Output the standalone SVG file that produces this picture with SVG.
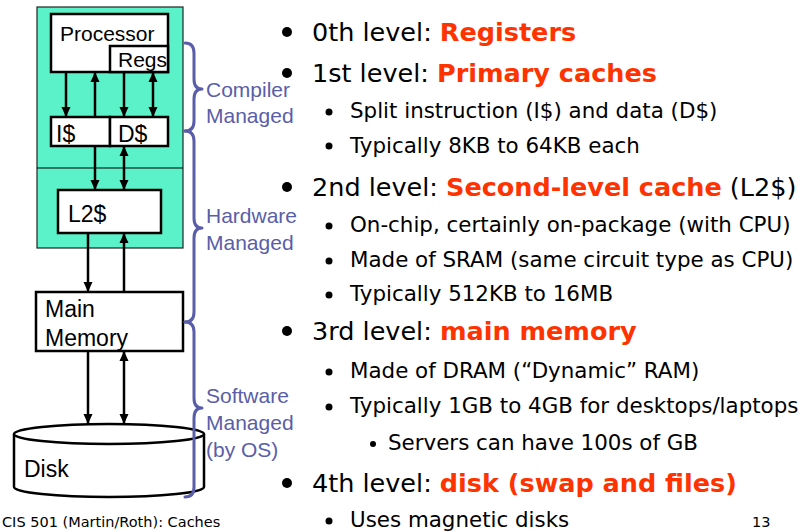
<svg xmlns="http://www.w3.org/2000/svg" width="810" height="531" viewBox="0 0 810 531">
<style>
.box{fill:#fff;stroke:#000;stroke-width:2.5}
.lbl{font-family:"Liberation Sans",Arial,sans-serif;fill:#000}
.blue{font-family:"Liberation Sans",Arial,sans-serif;font-size:21px;fill:#5a5ea8}
.brace{fill:none;stroke:#5a5ea8;stroke-width:3;stroke-linejoin:round;stroke-linecap:round}
.conn{stroke:#000;stroke-width:2.5;fill:none}
.t{font-family:"DejaVu Sans",Verdana,sans-serif;fill:#000}
.main{font-size:25.5px}
.sub{font-size:21.4px}
.red{fill:#ff3300;font-weight:bold}
.bul{fill:#000}
</style>
<defs>
<marker id="ah" markerUnits="userSpaceOnUse" markerWidth="11" markerHeight="11" refX="10" refY="5.5" orient="auto-start-reverse" viewBox="0 0 11 11">
<path d="M0,1 L10,5.5 L0,10 Z" fill="#000"/>
</marker>
</defs>
<rect width="810" height="531" fill="#fff"/>

<g id="chip">
<rect x="37" y="7" width="146" height="241" fill="#5cf2c9" stroke="#222" stroke-width="1.2"/>
<line x1="37" y1="168" x2="183" y2="168" stroke="#000" stroke-width="1.2"/>
</g>

<g id="processor">
<rect class="box" x="51" y="14" width="117" height="58"/>
<text class="lbl" x="60" y="41" font-size="21">Processor</text>
</g>
<g id="regs">
<rect class="box" x="110" y="46" width="58" height="26"/>
<text class="lbl" x="118" y="67" font-size="21">Regs</text>
</g>
<g id="icache">
<rect class="box" x="51" y="117" width="59" height="29"/>
<text class="lbl" x="56" y="142" font-size="23">I$</text>
</g>
<g id="dcache">
<rect class="box" x="110" y="117" width="58" height="29"/>
<text class="lbl" x="118" y="142" font-size="23">D$</text>
</g>
<g id="l2">
<rect class="box" x="58" y="190" width="103" height="43"/>
<text class="lbl" x="68" y="222" font-size="23">L2$</text>
</g>
<g id="mainmem">
<rect class="box" x="36" y="292" width="147" height="59"/>
<text class="lbl" x="45" y="317" font-size="23">Main</text>
<text class="lbl" x="45" y="346" font-size="23">Memory</text>
</g>
<g id="disk">
<path class="box" d="M14,434 L14,487 A95,10 0 0 0 204,487 L204,434"/>
<ellipse class="box" cx="109" cy="434" rx="95" ry="10"/>
<text class="lbl" x="24" y="477" font-size="23">Disk</text>
</g>

<g id="connectors">
<line class="conn" x1="66" y1="72" x2="66" y2="117" marker-end="url(#ah)"/>
<line class="conn" x1="95" y1="117" x2="95" y2="72" marker-end="url(#ah)"/>
<line class="conn" x1="124" y1="72" x2="124" y2="117" marker-end="url(#ah)"/>
<line class="conn" x1="153" y1="72" x2="153" y2="117" marker-start="url(#ah)" marker-end="url(#ah)"/>
<line class="conn" x1="95" y1="146" x2="95" y2="190" marker-end="url(#ah)"/>
<line class="conn" x1="124" y1="146" x2="124" y2="190" marker-start="url(#ah)" marker-end="url(#ah)"/>
<line class="conn" x1="88" y1="233" x2="88" y2="292" marker-end="url(#ah)"/>
<line class="conn" x1="124" y1="292" x2="124" y2="233" marker-end="url(#ah)"/>
<line class="conn" x1="88" y1="351" x2="88" y2="424" marker-end="url(#ah)"/>
<line class="conn" x1="124" y1="351" x2="124" y2="424" marker-start="url(#ah)" marker-end="url(#ah)"/>
</g>

<g id="braces">
<path class="brace" d="M185,43 Q194,43 194,53 L194,79 Q194,89 202,89 Q194,89 194,99 L194,121 Q194,131 185,131"/>
<path class="brace" d="M185,131 Q194,131 194,141 L194,218 Q194,228 202,228 Q194,228 194,238 L194,312 Q194,322 185,322"/>
<path class="brace" d="M185,322 Q194,322 194,332 L194,398 Q194,408 202,408 Q194,408 194,418 L194,487 Q194,497 185,497"/>
<text class="blue" x="206" y="97">Compiler</text>
<text class="blue" x="206" y="123">Managed</text>
<text class="blue" x="206" y="223">Hardware</text>
<text class="blue" x="206" y="250">Managed</text>
<text class="blue" x="206" y="403">Software</text>
<text class="blue" x="206" y="430">Managed</text>
<text class="blue" x="206" y="457">(by OS)</text>
</g>

<g id="bullets">
<circle class="bul" cx="287" cy="32" r="5"/>
<circle class="bul" cx="287" cy="73" r="5"/>
<circle class="bul" cx="329" cy="112" r="3.5"/>
<circle class="bul" cx="329" cy="146" r="3.5"/>
<circle class="bul" cx="287" cy="187" r="5"/>
<circle class="bul" cx="329" cy="226" r="3.5"/>
<circle class="bul" cx="329" cy="261" r="3.5"/>
<circle class="bul" cx="329" cy="295" r="3.5"/>
<circle class="bul" cx="287" cy="331" r="5"/>
<circle class="bul" cx="329" cy="372" r="3.5"/>
<circle class="bul" cx="329" cy="407" r="3.5"/>
<circle class="bul" cx="373" cy="444" r="3"/>
<circle class="bul" cx="287" cy="483" r="5"/>
<circle class="bul" cx="329" cy="521" r="3.5"/>
</g>

<g id="text">
<text class="t main" x="312" y="41">0th level: <tspan class="red">Registers</tspan></text>
<text class="t main" x="312" y="82">1st level: <tspan class="red">Primary caches</tspan></text>
<text class="t sub" x="350" y="118">Split instruction (I$) and data (D$)</text>
<text class="t sub" x="350" y="153">Typically 8KB to 64KB each</text>
<text class="t main" x="312" y="196">2nd level: <tspan class="red">Second-level cache</tspan> (L2$)</text>
<text class="t sub" x="350" y="232">On-chip, certainly on-package (with CPU)</text>
<text class="t sub" x="350" y="267">Made of SRAM (same circuit type as CPU)</text>
<text class="t sub" x="350" y="301">Typically 512KB to 16MB</text>
<text class="t main" x="312" y="340">3rd level: <tspan class="red">main memory</tspan></text>
<text class="t sub" x="350" y="378">Made of DRAM (“Dynamic” RAM)</text>
<text class="t sub" x="350" y="413">Typically 1GB to 4GB for desktops/laptops</text>
<text class="t sub" x="388" y="450">Servers can have 100s of GB</text>
<text class="t main" x="312" y="492">4th level: <tspan class="red">disk (swap and files)</tspan></text>
<text class="t sub" x="350" y="527">Uses magnetic disks</text>
<text class="t" x="2" y="527" font-size="14.5">CIS 501 (Martin/Roth): Caches</text>
<text class="t" x="752" y="527" font-size="14.5">13</text>
</g>
</svg>
